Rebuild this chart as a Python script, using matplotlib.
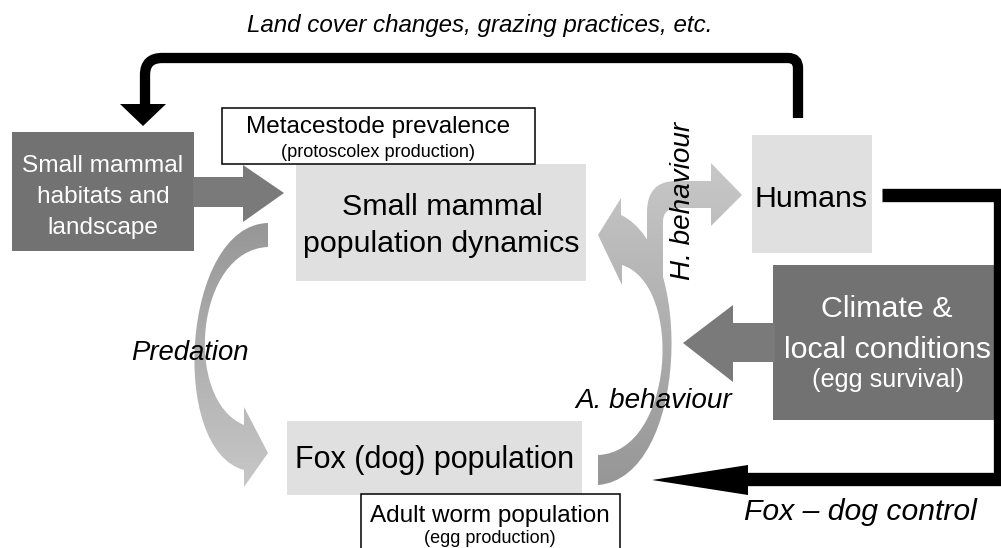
import matplotlib
matplotlib.use("Agg")
import matplotlib.pyplot as plt
from matplotlib.path import Path
from matplotlib.patches import PathPatch, Rectangle, Polygon
import numpy as np

plt.rcParams['font.family'] = ['Liberation Sans', 'DejaVu Sans']

# ---- text content of the diagram ----
title_label = "Land cover changes, grazing practices, etc."
habitat_lines = ["Small mammal", "habitats and", "landscape"]
metacestode_lines = ["Metacestode prevalence", "(protoscolex production)"]
smpd_lines = ["Small mammal", "population dynamics"]
humans_label = "Humans"
climate_lines = ["Climate &", "local conditions", "(egg survival)"]
fox_label = "Fox (dog) population"
worm_lines = ["Adult worm population", "(egg production)"]
control_label = "Fox \u2013 dog control"
predation_label = "Predation"
a_label = "A. behaviour"
h_label = "H. behaviour"

DARK = "#727272"
DARK_ARROW = "#7a7a7a"
LIGHT = "#e0e0e0"

fig = plt.figure(figsize=(10.01, 5.48), dpi=100)
ax = fig.add_axes([0, 0, 1, 1])
W, H = 1001, 548


def box(x0, y0, x1, y1, fc, ec="none", lw=0, z=2):
    ax.add_patch(Rectangle((x0, y0), x1 - x0, y1 - y0, facecolor=fc,
                           edgecolor=ec, linewidth=lw, zorder=z))


def poly(pts, fc, z=3):
    ax.add_patch(Polygon(pts, closed=True, facecolor=fc, edgecolor="none", zorder=z))


def gradient_patch(verts, codes, y_top, y_bot, c_top, c_bot, z=3):
    path = Path(verts, codes)
    patch = PathPatch(path, facecolor="none", edgecolor="none", zorder=z)
    ax.add_patch(patch)
    xs = [v[0] for v in verts]
    n = 256
    t = np.linspace(0, 1, n)[:, None, None]
    ct = np.array(c_top)[None, None, :]
    cb = np.array(c_bot)[None, None, :]
    img = ct * (1 - t) + cb * t
    im = ax.imshow(img, extent=(min(xs) - 2, max(xs) + 2, y_bot, y_top),
                   origin="upper", aspect="auto", interpolation="bilinear", zorder=z)
    im.set_clip_path(patch)


def g(v):
    return (v / 255.0, v / 255.0, v / 255.0)


# ---- boxes ----
box(12, 132, 194, 251, DARK)                       # habitats
box(296, 164, 586, 281, LIGHT)                     # small mammal pop dyn
box(752, 135, 872, 253, LIGHT)                     # humans
box(773, 265, 1003, 420, DARK)                     # climate
box(287, 421, 582, 495, LIGHT)                     # fox population
box(222, 108, 535, 164, "white", "black", 1.1, 4)  # metacestode
box(361, 494, 620, 570, "white", "black", 1.1, 4)  # adult worm

# ---- dark block arrows ----
poly([(193, 177), (243, 177), (243, 165), (284, 193), (243, 222), (243, 207), (193, 207)], DARK_ARROW)
poly([(775, 323), (733, 323), (733, 305), (683, 343), (733, 382), (733, 362), (775, 362)], DARK_ARROW)

# ---- black connector: humans -> habitats (top) ----
top_verts = [(798, 118), (798, 68), (798, 58), (788, 58), (162, 58), (145, 58), (145, 75), (145, 106)]
top_codes = [Path.MOVETO, Path.LINETO, Path.CURVE3, Path.CURVE3, Path.LINETO, Path.CURVE3, Path.CURVE3, Path.LINETO]
ax.add_patch(PathPatch(Path(top_verts, top_codes), facecolor="none", edgecolor="black",
                       linewidth=7.4, capstyle="butt", joinstyle="round", zorder=5))
poly([(120, 104), (166, 104), (143, 126)], "black", z=5)

# ---- black connector: humans -> fox control (right) ----
right_verts = [(882, 195), (1000, 195), (1000, 479), (746, 479)]
right_codes = [Path.MOVETO, Path.LINETO, Path.LINETO, Path.LINETO]
ax.add_patch(PathPatch(Path(right_verts, right_codes), facecolor="none", edgecolor="black",
                       linewidth=9.6, capstyle="butt", joinstyle="miter", zorder=5))
poly([(748, 465), (748, 495), (652, 480)], "black", z=5)

# ---- predation curved arrow (gradient) ----
pred_verts = [(268, 223), (182, 225), (168, 450), (244, 470),
              (244, 487), (268, 453), (244, 407), (244, 425),
              (183, 400), (195, 250), (268, 247), (268, 223)]
pred_codes = [Path.MOVETO, Path.CURVE4, Path.CURVE4, Path.CURVE4,
              Path.LINETO, Path.LINETO, Path.LINETO, Path.LINETO,
              Path.CURVE4, Path.CURVE4, Path.CURVE4, Path.CLOSEPOLY]
gradient_patch(pred_verts, pred_codes, 220, 490, g(150), g(200))

# ---- A. behaviour curved arrow (gradient) ----
a_verts = [(598, 485), (688, 478), (695, 250), (621, 215),
           (621, 198), (598, 235), (622, 285), (622, 265),
           (684, 285), (674, 452), (598, 455), (598, 485)]
a_codes = [Path.MOVETO, Path.CURVE4, Path.CURVE4, Path.CURVE4,
           Path.LINETO, Path.LINETO, Path.LINETO, Path.LINETO,
           Path.CURVE4, Path.CURVE4, Path.CURVE4, Path.CLOSEPOLY]
gradient_patch(a_verts, a_codes, 160, 488, g(200), g(150))

# ---- H. behaviour branch (gradient) ----
h_verts = [(647, 278), (647, 212), (647, 181), (676, 181), (711, 181),
           (711, 163), (742, 195), (711, 226), (711, 208), (678, 208),
           (663, 208), (663, 222), (663, 278), (647, 278)]
h_codes = [Path.MOVETO, Path.LINETO, Path.CURVE3, Path.CURVE3, Path.LINETO,
           Path.LINETO, Path.LINETO, Path.LINETO, Path.LINETO, Path.LINETO,
           Path.CURVE3, Path.CURVE3, Path.LINETO, Path.CLOSEPOLY]
gradient_patch(h_verts, h_codes, 160, 488, g(200), g(150))

# ---- texts ----
def txt(x, y, s, size, color="black", italic=False, rot=0, va="baseline", z=6):
    ax.text(x, y, s, ha="center", va=va, fontsize=size, color=color,
            style="italic" if italic else "normal", rotation=rot, zorder=z)

txt(480, 32, title_label, 17.4, italic=True)
for s, y in zip(habitat_lines, [172, 203, 234]):
    txt(103, y, s, 17.6, color="white")
txt(378, 133, metacestode_lines[0], 17.5)
txt(378, 157, metacestode_lines[1], 13.1)
txt(442, 215, smpd_lines[0], 21.9)
txt(441, 252, smpd_lines[1], 21.9)
txt(811, 207, humans_label, 21.9)
txt(887, 317, climate_lines[0], 21.9, color="white")
txt(887, 358, climate_lines[1], 21.9, color="white")
txt(888, 387, climate_lines[2], 18.2, color="white")
txt(435, 468, fox_label, 22)
txt(490, 522, worm_lines[0], 17.5)
txt(490, 543, worm_lines[1], 13)
txt(860, 520, control_label, 21.7, italic=True)
txt(190, 360, predation_label, 19.8, italic=True)
txt(654, 408, a_label, 20.1, italic=True)
txt(683, 201, h_label, 20.1, italic=True, rot=90, va="center")

ax.set_xlim(0, W)
ax.set_ylim(H, 0)
ax.axis("off")
fig.savefig("out.png", dpi=100, facecolor="white")
